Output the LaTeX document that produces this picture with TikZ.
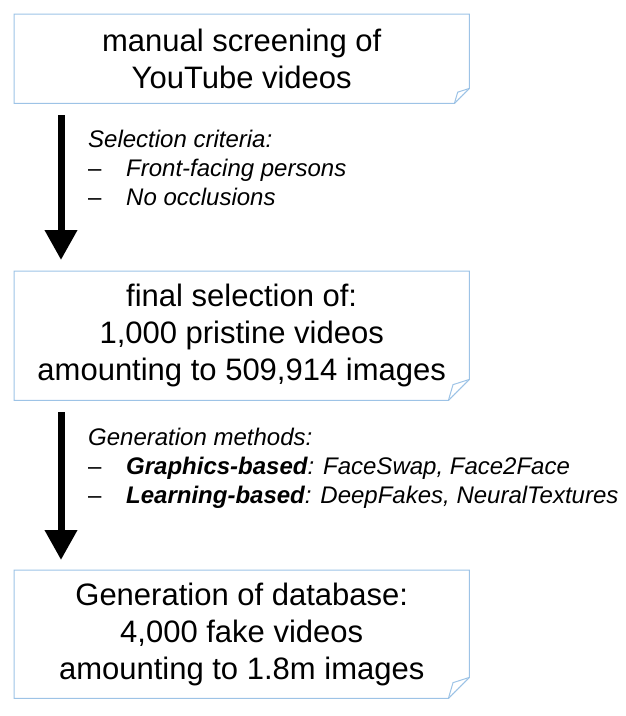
\documentclass[tikz,border=0pt]{standalone}
\usepackage{fontspec}
\setmainfont{Liberation Sans}
\usetikzlibrary{arrows.meta,calc}
\definecolor{boxblue}{RGB}{157,195,230}
\tikzset{
  boxtext/.style={minimum width=455pt, minimum height=#1, inner sep=0pt, align=center,
    font=\fontsize{31}{37}\selectfont, anchor=north west},
  outline/.style={draw=boxblue, line width=1pt, line join=miter},
  foldline/.style={draw=boxblue, line width=0.8pt, dotted},
  bigarrow/.style={line width=7pt, -{Triangle[width=31pt,length=30pt]}},
  crit/.style={font=\fontsize{24}{29}\selectfont\itshape, align=left, anchor=base west, inner sep=0pt}
}
\newcommand\foldbox[2]{%
  \draw[outline] (#1.north west) -- (#1.north east) -- ($(#1.south east)+(0,-#2)$)
    -- ($(#1.south east)+(-#2,0)$) -- (#1.south west) -- cycle;
  \draw[outline] ($(#1.south east)+(-#2,0)$) -- ($(#1.south east)+(-0.78*#2,-0.75*#2)$)
    -- ($(#1.south east)+(0,-#2)$);
  \draw[foldline] ($(#1.south east)+(-#2,0)$) -- ($(#1.south east)+(0,-#2)$);
}
\newcommand\dashitem{\makebox[38pt][l]{\upshape –}}
\begin{document}
\begin{tikzpicture}[x=1pt,y=-1pt]
  \useasboundingbox (0,0) rectangle (626,716);
  \node[boxtext=89pt] (b1) at (14,14) {manual screening of\\YouTube videos};
  \node[boxtext=129pt] (b2) at (14,271) {final selection of:\\1,000 pristine videos\\amounting to 509,914 images};
  \node[boxtext=128pt] (b3) at (14,570) {Generation of database:\\4,000 fake videos\\amounting to 1.8m images};
  \foldbox{b1}{15}
  \foldbox{b2}{21}
  \foldbox{b3}{21}
  \draw[bigarrow] ($(b1.south west)+(47,12)$) -- ($(b2.north west)+(47,-11)$);
  \draw[bigarrow] ($(b2.south west)+(47,12)$) -- ($(b3.north west)+(47,-10)$);
  \node[crit] (c1) at (88,205) {Selection criteria:\\\dashitem Front-facing persons\\\dashitem No occlusions};
  \node[crit] (c2) at (88,503) {Generation methods:\\\dashitem\textbf{Graphics-based}: FaceSwap, Face2Face\\\dashitem\textbf{Learning-based}: DeepFakes, NeuralTextures};
\end{tikzpicture}
\end{document}
